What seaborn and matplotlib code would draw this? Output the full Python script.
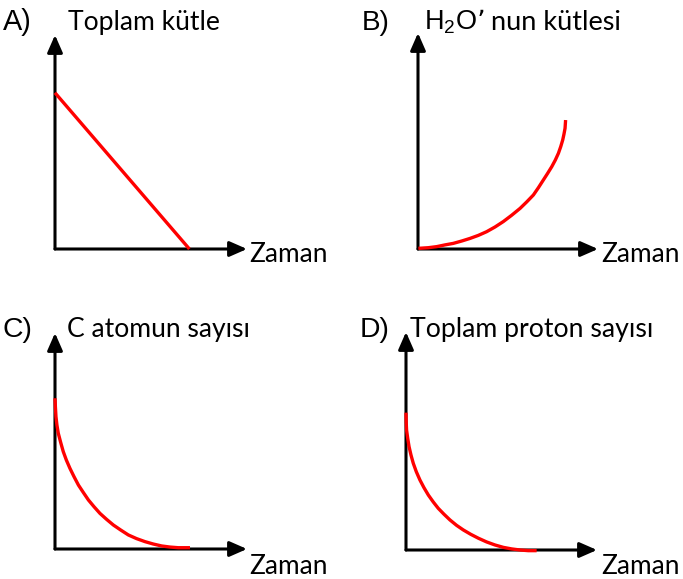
import matplotlib
matplotlib.use("Agg")
import matplotlib.pyplot as plt
import seaborn as sns

sns.set_theme(style="white")
plt.rcParams["font.family"] = ["Liberation Sans", "DejaVu Sans"]

# ---------------- data (axes run 0..1 from origin to arrow tip) ----------------
panel_letters = ["A)", "B)", "C)", "D)"]
y_titles = ["Toplam kütle", "H$_\\mathregular{2}$O’", "C atomun sayısı", "Toplam proton sayısı"]
y_title_b_rest = "nun kütlesi"
x_title = "Zaman"

a_time = [0.0, 0.70]
a_mass = [0.73, 0.0]

b_time = [0.002, 0.057, 0.104, 0.150, 0.196, 0.243, 0.289, 0.335, 0.381, 0.428, 0.474, 0.520, 0.567,
          0.604, 0.641, 0.669, 0.696, 0.720, 0.743, 0.763, 0.780, 0.793, 0.804, 0.811, 0.817, 0.820]
b_mass = [0.003, 0.006, 0.011, 0.019, 0.026, 0.037, 0.049, 0.063, 0.080, 0.102, 0.127, 0.156, 0.188,
          0.218, 0.250, 0.284, 0.319, 0.350, 0.381, 0.412, 0.443, 0.474, 0.505, 0.532, 0.559, 0.597]

c_time = [0.0, 0.002, 0.005, 0.010, 0.017, 0.030, 0.043, 0.059, 0.078, 0.099, 0.122, 0.148, 0.174,
          0.203, 0.234, 0.269, 0.304, 0.342, 0.382, 0.425, 0.469, 0.512, 0.556, 0.599, 0.642, 0.703]
c_count = [0.698, 0.659, 0.613, 0.574, 0.536, 0.492, 0.451, 0.412, 0.373, 0.335, 0.296, 0.261, 0.227,
           0.196, 0.165, 0.137, 0.111, 0.088, 0.065, 0.048, 0.034, 0.023, 0.014, 0.009, 0.006, 0.006]

d_time = [0.0, 0.001, 0.003, 0.009, 0.016, 0.026, 0.038, 0.054, 0.073, 0.094, 0.117, 0.143, 0.169,
          0.199, 0.230, 0.265, 0.300, 0.339, 0.379, 0.422, 0.466, 0.510, 0.553, 0.597, 0.640, 0.684]
d_count = [0.630, 0.589, 0.550, 0.512, 0.474, 0.436, 0.398, 0.359, 0.321, 0.286, 0.252, 0.220, 0.191,
           0.164, 0.138, 0.113, 0.092, 0.072, 0.054, 0.037, 0.023, 0.012, 0.005, 0.000, -0.003, -0.003]

# ---------------- layout ----------------
W, H = 683, 579
fig = plt.figure(figsize=(W / 100, H / 100), dpi=100)
fig.patch.set_facecolor("white")
renderer = fig.canvas.get_renderer()

# (origin_x, origin_y, tip_x, tip_y) in pixels
boxes = [(55, 249, 247, 35), (418, 249, 598, 33), (55, 549, 247, 333), (406, 550, 597, 332)]
series = [(a_time, a_mass), (b_time, b_mass), (c_time, c_count), (d_time, d_count)]

for (ox, oy, tx, ty), (xs, ys) in zip(boxes, series):
    ax = fig.add_axes([ox / W, 1 - oy / H, (tx - ox) / W, (oy - ty) / H])
    ax.set_xlim(0, 1)
    ax.set_ylim(0, 1)
    ax.axis("off")
    arrow = dict(arrowstyle="-|>,head_length=10.5,head_width=4.6", mutation_scale=1,
                 lw=2.2, color="black", shrinkA=0, shrinkB=0)
    ax.annotate("", xy=(1, 0), xytext=(0, 0), xycoords="axes fraction",
                textcoords="axes fraction", arrowprops=arrow)
    ax.annotate("", xy=(0, 1), xytext=(0, 0), xycoords="axes fraction",
                textcoords="axes fraction", arrowprops=arrow)
    sns.lineplot(x=xs, y=ys, ax=ax, color="#ff0000", lw=2.4, sort=False,
                 estimator=None, legend=False)
    for ln in ax.lines:
        ln.set_clip_on(False)
        ln.set_solid_capstyle("butt")
        ln.set_solid_joinstyle("round")
        ln.set_zorder(3)


def put(s, x0, x1, ybase, family):
    t = fig.text(x0 / W, 1 - ybase / H, s, family=family, fontsize=20,
                 va="baseline", ha="left", color="black")
    bb = t.get_window_extent(renderer)
    t.set_fontsize(20 * (x1 - x0) / bb.width)
    return t


arial = ["Liberation Sans", "DejaVu Sans"]
calib = ["Lato", "DejaVu Sans"]

put(panel_letters[0], 3, 32, 30, arial)
tb = put(panel_letters[1], 362, 390, 30, arial)
put(panel_letters[2], 3, 33, 337, arial)
put(panel_letters[3], 360, 390, 337, arial)

put(y_titles[0], 68, 220, 30, calib)
fig.text(424 / W, 1 - 30 / H, y_titles[1], family=arial, fontsize=tb.get_fontsize() * 0.97,
         va="baseline", ha="left", color="black")
put(y_title_b_rest, 491, 622, 30, calib)
put(y_titles[2], 67, 250, 337, calib)
put(y_titles[3], 410, 653, 337, calib)

put(x_title, 249, 327, 262, calib)
put(x_title, 601, 679, 262, calib)
put(x_title, 249, 327, 574, calib)
put(x_title, 601, 679, 574, calib)

fig.savefig("out.png", dpi=100, facecolor="white")
